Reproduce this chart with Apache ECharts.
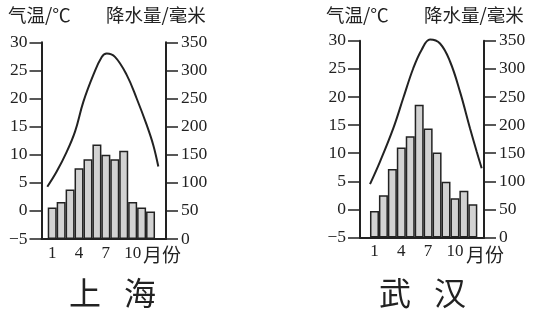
<!DOCTYPE html>
<html>
<head>
<meta charset="utf-8">
<script src="https://cdn.jsdelivr.net/npm/echarts@6/dist/echarts.min.js"></script>
<style>
html,body{margin:0;padding:0;background:#fff;}
#c{width:533px;height:314px;}
</style>
</head>
<body>
<div id="c"></div>
<script>
// ---- data ----
const months = [1, 2, 3, 4, 5, 6, 7, 8, 9, 10, 11, 12];
const monthTickLabels = [1, 4, 7, 10];
const shanghaiRain = [56, 66, 88, 126, 142, 168, 150, 142, 157, 66, 56, 49];
const wuhanRain = [47, 75, 122, 160, 180, 236, 194, 151, 99, 70, 83, 59];
const shanghaiTempMonth = [0.45, 1.5, 2.62, 3.55, 4.48, 5.6, 6.54, 7.1, 8.02, 9.33, 10.45, 11.57, 12.31, 12.87];
const shanghaiTemp = [4.3, 7.0, 10.5, 14.1, 19.4, 24.2, 27.4, 28.0, 27.4, 24.2, 20.0, 15.3, 11.7, 7.9];
const wuhanTempMonth = [0.5, 1.62, 3.1, 4.22, 5.34, 6.28, 7.21, 8.33, 9.45, 10.57, 11.69, 12.43, 12.99];
const wuhanTemp = [4.5, 8.5, 14.4, 19.8, 25.1, 28.4, 30.2, 29.5, 26.3, 20.9, 14.4, 10.3, 7.3];
const tempRange = [-5, 30, 5];
const rainRange = [0, 350, 50];
const cityNames = ['上海', '武汉'];
const tempTitle = '气温/℃';
const rainTitle = '降水量/毫米';
const monthTitle = '月份';

// ---- styles ----
const INK = '#222';
const serif = '"Liberation Serif", "DejaVu Serif", serif';
const cjk = '"Noto Sans CJK SC", sans-serif';

const chart = echarts.init(document.getElementById('c'), null, {renderer: 'canvas'});

const grids = [
  {left: 41.5, top: 42.3, width: 124.5, height: 196.7},
  {left: 360, top: 40.7, width: 124, height: 196.8}
];
const xRanges = [[-0.2, 13.73], [-0.62, 13.25]];

function fmtNum(v) { return String(v).replace('-', '\u2212'); }

const xAxes = [], yAxes = [], series = [];
[0, 1].forEach(function (i) {
  xAxes.push({
    type: 'value', gridIndex: i, min: xRanges[i][0], max: xRanges[i][1],
    axisLine: {show: true, onZero: false, lineStyle: {color: INK, width: 2}},
    axisTick: {show: false},
    splitLine: {show: false},
    axisLabel: {customValues: monthTickLabels, color: INK, fontFamily: serif, fontSize: 17, margin: 6}
  });
  yAxes.push({
    type: 'value', gridIndex: i, position: 'left',
    min: tempRange[0], max: tempRange[1], interval: tempRange[2],
    axisLine: {show: true, onZero: false, lineStyle: {color: INK, width: 2}},
    axisTick: {show: true, length: 12, lineStyle: {color: INK, width: 1.5}},
    splitLine: {show: false},
    axisLabel: {color: INK, fontFamily: serif, fontSize: 17.5, margin: 14, formatter: fmtNum}
  });
  yAxes.push({
    type: 'value', gridIndex: i, position: 'right',
    min: rainRange[0], max: rainRange[1], interval: rainRange[2],
    axisLine: {show: true, onZero: false, lineStyle: {color: INK, width: 2}},
    axisTick: {show: true, length: 12, lineStyle: {color: INK, width: 1.5}},
    splitLine: {show: false},
    axisLabel: {color: INK, fontFamily: serif, fontSize: 17.5, margin: 15}
  });
});

const rains = [shanghaiRain, wuhanRain];
const tms = [shanghaiTempMonth, wuhanTempMonth];
const tvs = [shanghaiTemp, wuhanTemp];
[0, 1].forEach(function (i) {
  series.push({
    type: 'bar', xAxisIndex: i, yAxisIndex: i * 2 + 1,
    data: months.map(function (m, k) { return [m, rains[i][k]]; }),
    barWidth: 9,
    itemStyle: {color: '#d2d2d2', borderColor: INK, borderWidth: 1.5},
    silent: true, animation: false
  });
  series.push({
    type: 'line', xAxisIndex: i, yAxisIndex: i * 2,
    data: tms[i].map(function (m, k) { return [m, tvs[i][k]]; }),
    smooth: 0.4, showSymbol: false, symbol: 'none', clip: false,
    lineStyle: {color: INK, width: 2},
    silent: true, animation: false
  });
});

function txt(x, y, s, size, font, align) {
  return {type: 'text', x: x, y: y, silent: true,
    style: {text: s, fill: INK, font: size + 'px ' + font, align: align || 'left', verticalAlign: 'middle'}};
}

const graphics = [
  txt(8, 15, tempTitle, 18.5, cjk),
  txt(106, 15, rainTitle, 18.5, cjk),
  txt(143, 255, monthTitle, 19, cjk),
  txt(69, 293, cityNames[0].charAt(0), 32, cjk),
  txt(124, 293, cityNames[0].charAt(1), 32, cjk),
  txt(326, 15, tempTitle, 18.5, cjk),
  txt(424, 15, rainTitle, 18.5, cjk),
  txt(466, 255, monthTitle, 19, cjk),
  txt(379, 293, cityNames[1].charAt(0), 32, cjk),
  txt(434, 293, cityNames[1].charAt(1), 32, cjk)
];

chart.setOption({
  animation: false,
  backgroundColor: '#fff',
  grid: grids,
  xAxis: xAxes,
  yAxis: yAxes,
  series: series,
  graphic: graphics
});
</script>
</body>
</html>
